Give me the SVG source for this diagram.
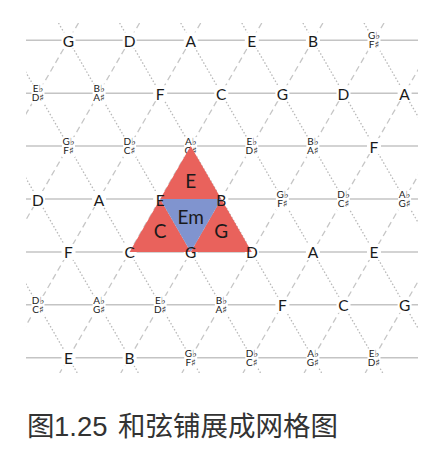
<svg xmlns="http://www.w3.org/2000/svg" width="442" height="454" viewBox="0 0 442 454">
<style>
.h{stroke:#c4c4c4;stroke-width:1.5;fill:none}
.dsh{stroke:#c6c6c6;stroke-width:1.3;stroke-dasharray:6 4;fill:none}
.dot{stroke:#b8b8b8;stroke-width:1.3;stroke-dasharray:1.5 2;fill:none}
.bg{fill:#fff}
.n{font-family:Lato,"Open Sans","DejaVu Sans",sans-serif;font-size:15.5px;fill:#1a1a1a;text-anchor:middle}
.p{font-family:Lato,"Open Sans","DejaVu Sans",sans-serif;font-size:10px;fill:#1a1a1a;text-anchor:middle}
.red{fill:#e9625c}
.blue{fill:#8094cf}
.t{font-family:Lato,"Open Sans","DejaVu Sans",sans-serif;font-size:19px;fill:#1a1a1a;text-anchor:middle}
.cap{font-family:"Noto Sans CJK SC","Noto Sans",sans-serif;font-size:27.5px;fill:#333}
.num{font-family:"Liberation Sans",Arial,sans-serif}
</style>
<defs>
<clipPath id="clip"><rect x="26" y="23" width="392" height="350"/></clipPath>
</defs>
<g id="connectors">
<g id="horizontal">
<line class="h" x1="26" y1="40.3" x2="418" y2="40.3"/>
<line class="h" x1="26" y1="93.2" x2="418" y2="93.2"/>
<line class="h" x1="26" y1="146.1" x2="418" y2="146.1"/>
<line class="h" x1="26" y1="199" x2="418" y2="199"/>
<line class="h" x1="26" y1="251.9" x2="418" y2="251.9"/>
<line class="h" x1="26" y1="304.8" x2="418" y2="304.8"/>
<line class="h" x1="26" y1="357.7" x2="418" y2="357.7"/>
</g>
<g id="rising" clip-path="url(#clip)">
<line class="dsh" x1="78.5" y1="23" x2="-123.6" y2="373"/>
<line class="dsh" x1="139.6" y1="23" x2="-62.5" y2="373"/>
<line class="dsh" x1="200.7" y1="23" x2="-1.4" y2="373"/>
<line class="dsh" x1="261.8" y1="23" x2="59.7" y2="373"/>
<line class="dsh" x1="322.9" y1="23" x2="120.8" y2="373"/>
<line class="dsh" x1="384" y1="23" x2="181.9" y2="373"/>
<line class="dsh" x1="445.1" y1="23" x2="243" y2="373"/>
<line class="dsh" x1="506.2" y1="23" x2="304.1" y2="373"/>
<line class="dsh" x1="567.3" y1="23" x2="365.2" y2="373"/>
</g>
<g id="falling" clip-path="url(#clip)">
<line class="dot" x1="-124.8" y1="23" x2="77.3" y2="373"/>
<line class="dot" x1="-63.7" y1="23" x2="138.4" y2="373"/>
<line class="dot" x1="-2.6" y1="23" x2="199.5" y2="373"/>
<line class="dot" x1="58.5" y1="23" x2="260.6" y2="373"/>
<line class="dot" x1="119.6" y1="23" x2="321.7" y2="373"/>
<line class="dot" x1="180.7" y1="23" x2="382.8" y2="373"/>
<line class="dot" x1="241.8" y1="23" x2="443.9" y2="373"/>
<line class="dot" x1="302.9" y1="23" x2="505" y2="373"/>
<line class="dot" x1="364" y1="23" x2="566.1" y2="373"/>
</g>
</g>
<g id="vertex-backgrounds">
<rect class="bg" x="153.2" y="191" width="14" height="16"/>
<rect class="bg" x="214.3" y="191" width="14" height="16"/>
<rect class="bg" x="122.6" y="243.9" width="14" height="16"/>
<rect class="bg" x="183.7" y="243.9" width="14" height="16"/>
<rect class="bg" x="244.8" y="243.9" width="14" height="16"/>
</g>
<!-- row 0 -->
<g id="r0-G"><rect class="bg" x="61.5" y="32.3" width="14" height="16"/><text class="n" x="68.5" y="46.8">G</text></g>
<g id="r0-D"><rect class="bg" x="122.6" y="32.3" width="14" height="16"/><text class="n" x="129.6" y="46.8">D</text></g>
<g id="r0-A"><rect class="bg" x="183.7" y="32.3" width="14" height="16"/><text class="n" x="190.7" y="46.8">A</text></g>
<g id="r0-E"><rect class="bg" x="244.8" y="32.3" width="14" height="16"/><text class="n" x="251.8" y="46.8">E</text></g>
<g id="r0-B"><rect class="bg" x="305.9" y="32.3" width="14" height="16"/><text class="n" x="312.9" y="46.8">B</text></g>
<g id="r0-Gb"><rect class="bg" x="367.5" y="31.3" width="13" height="20"/><text class="p" x="374" y="39.3">G♭</text><text class="p" x="374" y="48.3">F♯</text></g>
<!-- row 1 -->
<g id="r1-Eb"><rect class="bg" x="31.5" y="84.2" width="13" height="20"/><text class="p" x="38" y="92.2">E♭</text><text class="p" x="38" y="101.2">D♯</text></g>
<g id="r1-Bb"><rect class="bg" x="92.6" y="84.2" width="13" height="20"/><text class="p" x="99.1" y="92.2">B♭</text><text class="p" x="99.1" y="101.2">A♯</text></g>
<g id="r1-F"><rect class="bg" x="153.2" y="85.2" width="14" height="16"/><text class="n" x="160.2" y="99.7">F</text></g>
<g id="r1-C"><rect class="bg" x="214.3" y="85.2" width="14" height="16"/><text class="n" x="221.3" y="99.7">C</text></g>
<g id="r1-G"><rect class="bg" x="275.4" y="85.2" width="14" height="16"/><text class="n" x="282.4" y="99.7">G</text></g>
<g id="r1-D"><rect class="bg" x="336.5" y="85.2" width="14" height="16"/><text class="n" x="343.5" y="99.7">D</text></g>
<g id="r1-A"><rect class="bg" x="397.6" y="85.2" width="14" height="16"/><text class="n" x="404.6" y="99.7">A</text></g>
<!-- row 2 -->
<g id="r2-Gb"><rect class="bg" x="62" y="137.1" width="13" height="20"/><text class="p" x="68.5" y="145.1">G♭</text><text class="p" x="68.5" y="154.1">F♯</text></g>
<g id="r2-Db"><rect class="bg" x="123.1" y="137.1" width="13" height="20"/><text class="p" x="129.6" y="145.1">D♭</text><text class="p" x="129.6" y="154.1">C♯</text></g>
<g id="r2-Ab"><rect class="bg" x="184.2" y="137.1" width="13" height="20"/><text class="p" x="190.7" y="145.1">A♭</text><text class="p" x="190.7" y="154.1">G♯</text></g>
<g id="r2-Eb"><rect class="bg" x="245.3" y="137.1" width="13" height="20"/><text class="p" x="251.8" y="145.1">E♭</text><text class="p" x="251.8" y="154.1">D♯</text></g>
<g id="r2-Bb"><rect class="bg" x="306.4" y="137.1" width="13" height="20"/><text class="p" x="312.9" y="145.1">B♭</text><text class="p" x="312.9" y="154.1">A♯</text></g>
<g id="r2-F"><rect class="bg" x="367" y="138.1" width="14" height="16"/><text class="n" x="374" y="152.6">F</text></g>
<!-- row 3 -->
<g id="r3-D"><rect class="bg" x="31" y="191" width="14" height="16"/><text class="n" x="38" y="205.5">D</text></g>
<g id="r3-A"><rect class="bg" x="92.1" y="191" width="14" height="16"/><text class="n" x="99.1" y="205.5">A</text></g>
<g id="r3-Gb"><rect class="bg" x="275.9" y="190" width="13" height="20"/><text class="p" x="282.4" y="198">G♭</text><text class="p" x="282.4" y="207">F♯</text></g>
<g id="r3-Db"><rect class="bg" x="337" y="190" width="13" height="20"/><text class="p" x="343.5" y="198">D♭</text><text class="p" x="343.5" y="207">C♯</text></g>
<g id="r3-Ab"><rect class="bg" x="398.1" y="190" width="13" height="20"/><text class="p" x="404.6" y="198">A♭</text><text class="p" x="404.6" y="207">G♯</text></g>
<!-- row 4 -->
<g id="r4-F"><rect class="bg" x="61.5" y="243.9" width="14" height="16"/><text class="n" x="68.5" y="258.4">F</text></g>
<g id="r4-A"><rect class="bg" x="305.9" y="243.9" width="14" height="16"/><text class="n" x="312.9" y="258.4">A</text></g>
<g id="r4-E"><rect class="bg" x="367" y="243.9" width="14" height="16"/><text class="n" x="374" y="258.4">E</text></g>
<!-- row 5 -->
<g id="r5-Db"><rect class="bg" x="31.5" y="295.8" width="13" height="20"/><text class="p" x="38" y="303.8">D♭</text><text class="p" x="38" y="312.8">C♯</text></g>
<g id="r5-Ab"><rect class="bg" x="92.6" y="295.8" width="13" height="20"/><text class="p" x="99.1" y="303.8">A♭</text><text class="p" x="99.1" y="312.8">G♯</text></g>
<g id="r5-Eb"><rect class="bg" x="153.7" y="295.8" width="13" height="20"/><text class="p" x="160.2" y="303.8">E♭</text><text class="p" x="160.2" y="312.8">D♯</text></g>
<g id="r5-Bb"><rect class="bg" x="214.8" y="295.8" width="13" height="20"/><text class="p" x="221.3" y="303.8">B♭</text><text class="p" x="221.3" y="312.8">A♯</text></g>
<g id="r5-F"><rect class="bg" x="275.4" y="296.8" width="14" height="16"/><text class="n" x="282.4" y="311.3">F</text></g>
<g id="r5-C"><rect class="bg" x="336.5" y="296.8" width="14" height="16"/><text class="n" x="343.5" y="311.3">C</text></g>
<g id="r5-G"><rect class="bg" x="397.6" y="296.8" width="14" height="16"/><text class="n" x="404.6" y="311.3">G</text></g>
<!-- row 6 -->
<g id="r6-E"><rect class="bg" x="61.5" y="349.7" width="14" height="16"/><text class="n" x="68.5" y="364.2">E</text></g>
<g id="r6-B"><rect class="bg" x="122.6" y="349.7" width="14" height="16"/><text class="n" x="129.6" y="364.2">B</text></g>
<g id="r6-Gb"><rect class="bg" x="184.2" y="348.7" width="13" height="20"/><text class="p" x="190.7" y="356.7">G♭</text><text class="p" x="190.7" y="365.7">F♯</text></g>
<g id="r6-Db"><rect class="bg" x="245.3" y="348.7" width="13" height="20"/><text class="p" x="251.8" y="356.7">D♭</text><text class="p" x="251.8" y="365.7">C♯</text></g>
<g id="r6-Ab"><rect class="bg" x="306.4" y="348.7" width="13" height="20"/><text class="p" x="312.9" y="356.7">A♭</text><text class="p" x="312.9" y="365.7">G♯</text></g>
<g id="r6-Eb"><rect class="bg" x="367.5" y="348.7" width="13" height="20"/><text class="p" x="374" y="356.7">E♭</text><text class="p" x="374" y="365.7">D♯</text></g>
<!-- chord triangles -->
<g id="tri-E"><polygon class="red" points="190.7,146.1 160.2,199 221.3,199"/><text class="t" x="190.7" y="187.7">E</text></g>
<g id="tri-C"><polygon class="red" points="129.6,251.9 160.2,199 190.7,251.9"/><text class="t" x="160.2" y="238.3">C</text></g>
<g id="tri-G"><polygon class="red" points="190.7,251.9 221.3,199 251.8,251.9"/><text class="t" x="221.3" y="238.3">G</text></g>
<g id="tri-Em"><polygon class="blue" points="160.2,199 221.3,199 190.7,251.9"/><text class="t" x="190.7" y="224.3">Em</text></g>
<!-- vertex nodes -->
<g id="r3-E"><text class="n" x="160.2" y="205.5">E</text></g>
<g id="r3-B"><text class="n" x="221.3" y="205.5">B</text></g>
<g id="r4-C"><text class="n" x="129.6" y="258.4">C</text></g>
<g id="r4-G"><text class="n" x="190.7" y="258.4">G</text></g>
<g id="r4-D"><text class="n" x="251.8" y="258.4">D</text></g>
<text class="cap" y="436"><tspan x="27">图</tspan><tspan class="num" x="54">1.25</tspan><tspan x="118">和弦铺展成网格图</tspan></text>
</svg>
